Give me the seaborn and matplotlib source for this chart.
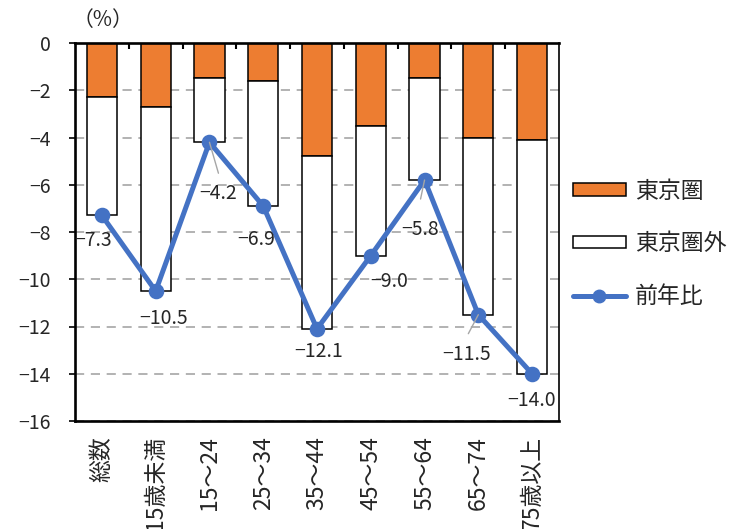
import matplotlib
matplotlib.use("Agg")
import matplotlib.pyplot as plt
from matplotlib.lines import Line2D
from matplotlib.patches import Patch
from matplotlib.ticker import FixedLocator
import seaborn as sns
import pandas as pd

# 年齢階級別 転入超過の前年比（%）
categories = ["総数", "15歳未満", "15～24", "25～34", "35～44",
              "45～54", "55～64", "65～74", "75歳以上"]
tokyo = [-2.3, -2.7, -1.5, -1.6, -4.8, -3.5, -1.5, -4.0, -4.1]      # 東京圏
outside = [-5.0, -7.8, -2.7, -5.3, -7.3, -5.5, -4.3, -7.5, -9.9]    # 東京圏外
yoy = [-7.3, -10.5, -4.2, -6.9, -12.1, -9.0, -5.8, -11.5, -14.0]    # 前年比
y_ticks = [0, -2, -4, -6, -8, -10, -12, -14, -16]

ORANGE = "#ED7D31"
BLUE = "#4472C4"
GRID = "#A6A6A6"
PX = 0.72  # points per pixel at 100 dpi

# label offsets (pixels right, pixels down) from each point
label_offsets = [(-9, 25), (8, 27), (9, 51), (-7, 33), (2, 23),
                 (18, 26), (-4, 49), (-12, 40), (-1, 27)]
# leader lines: category index -> end offset in pixels
leaders = {2: (9, 31), 6: (-4, 19), 7: (-10, 19)}

sns.set_style("white")
plt.rcParams["font.family"] = ["Noto Sans CJK JP", "DejaVu Sans"]
plt.rcParams["axes.unicode_minus"] = True

df = pd.DataFrame({"cat": categories, "tokyo": tokyo,
                   "outside": outside, "yoy": yoy})

fig = plt.figure(figsize=(7.42, 5.29), dpi=100)
ax = fig.add_axes([75 / 742, 1 - 421 / 529, (559 - 75) / 742, (421 - 43) / 529])

bar_kw = dict(order=categories, width=0.56, errorbar=None, saturation=1,
              edgecolor="black", linewidth=1.1, ax=ax)
sns.barplot(data=df, x="cat", y="tokyo", color=ORANGE, zorder=2, **bar_kw)
sns.barplot(data=df, x="cat", y="outside", color="white", bottom=tokyo,
            zorder=2, **bar_kw)
sns.pointplot(data=df, x="cat", y="yoy", order=categories, color=BLUE,
              markers="o", errorbar=None, linewidth=3.6, markersize=8.5,
              zorder=5, ax=ax)

ax.set_xlim(-0.5, len(categories) - 0.5)
ax.set_ylim(-16, 0)
ax.set_xlabel("")
ax.set_ylabel("")

# dashed horizontal gridlines
ax.set_axisbelow(True)
ax.yaxis.set_major_locator(FixedLocator(y_ticks))
ax.yaxis.grid(True, linestyle=(0, (5.5, 4)), color=GRID, linewidth=1.2, zorder=0)
ax.xaxis.grid(False)

# spines
for side in ["left", "top", "bottom"]:
    ax.spines[side].set_linewidth(1.9)
    ax.spines[side].set_color("black")
ax.spines["right"].set_linewidth(1.2)
ax.spines["right"].set_color("black")
ax.spines["top"].set_zorder(6)

# ticks
ax.tick_params(axis="y", which="major", direction="out", length=4, width=1.2,
               color="black", labelsize=14, pad=13.5, left=True)
ax.tick_params(axis="x", which="major", length=0, labelsize=16.5, pad=11,
               labelrotation=90)
ax.xaxis.set_minor_locator(FixedLocator([i + 0.5 for i in range(len(categories) - 1)]))
ax.tick_params(axis="x", which="minor", top=True, bottom=False,
               direction="in", length=4.5, width=1.5, color="black")
for lbl in ax.get_xticklabels():
    lbl.set_va("top")
    lbl.set_ha("center")

# value labels
for i, v in enumerate(yoy):
    dx, dy = label_offsets[i]
    ax.annotate(f"{v:.1f}".replace("-", "\u2212"), xy=(i, v),
                xytext=(dx * PX, -dy * PX), textcoords="offset points",
                ha="center", va="center", fontsize=14, zorder=7)
for i, (ex, ey) in leaders.items():
    ax.annotate("", xy=(i, yoy[i]), xytext=(ex * PX, -ey * PX),
                textcoords="offset points",
                arrowprops=dict(arrowstyle="-", color=GRID, lw=1.0,
                                shrinkA=0, shrinkB=0), zorder=6)

fig.text(73 / 742, 1 - 20 / 529, "（%）", ha="left", va="center", fontsize=15)

handles = [
    Patch(facecolor=ORANGE, edgecolor="black", linewidth=1.1),
    Patch(facecolor="white", edgecolor="black", linewidth=1.1),
    Line2D([], [], color=BLUE, lw=3.6, marker="o", markersize=9),
]
fig.legend(handles, ["東京圏", "東京圏外", "前年比"], loc="center left",
           bbox_to_anchor=(573 / 742, 1 - 244 / 529), frameon=False,
           fontsize=16.5, handlelength=2.3, handleheight=0.44,
           handletextpad=0.4, labelspacing=1.3, borderpad=0,
           borderaxespad=0, numpoints=1)

fig.savefig("out.png", dpi=100)
